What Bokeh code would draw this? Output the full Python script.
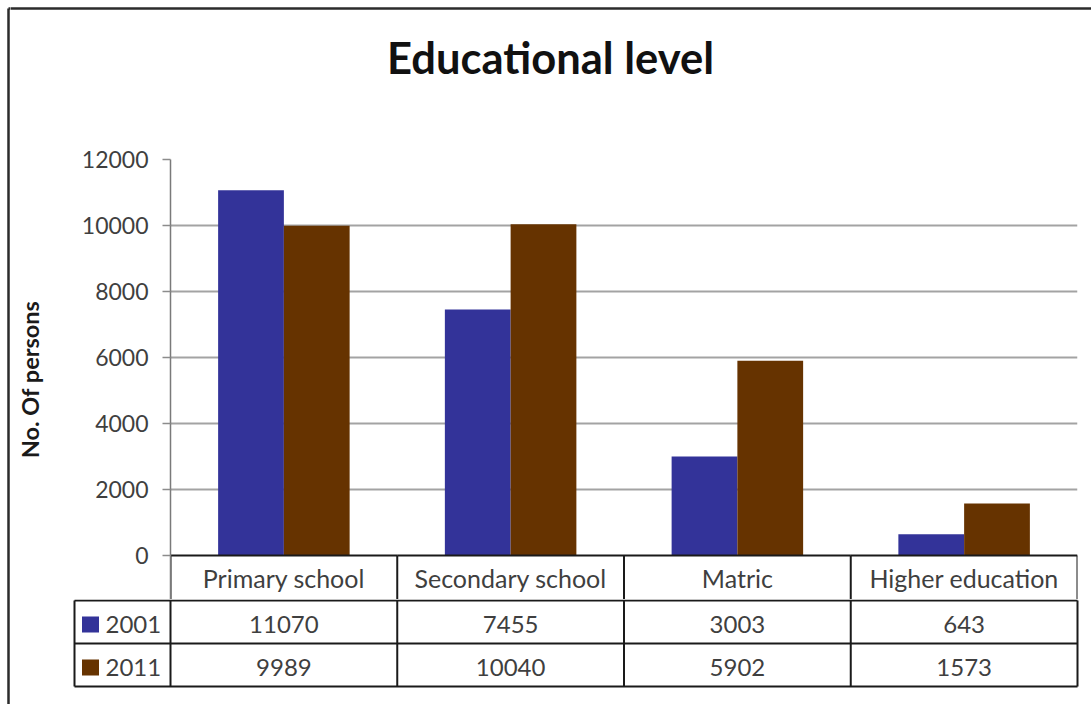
from bokeh.plotting import figure
from bokeh.models import FactorRange, Range1d, FixedTicker, ColumnDataSource
from bokeh.transform import dodge
from bokeh.layouts import column, row
from bokeh.embed import file_html
from bokeh.resources import INLINE
from bokeh.core.properties import value

# ---------------- data ----------------
categories = ["Primary school", "Secondary school", "Matric", "Higher education"]
years = ["2001", "2011"]
values_2001 = [11070, 7455, 3003, 643]
values_2011 = [9989, 10040, 5902, 1573]
y_ticks = [0, 2000, 4000, 6000, 8000, 10000, 12000]
title_text = "Educational level"
y_label = "No. Of persons"

# ---------------- styles / layout ----------------
colors = ["#333399", "#663300"]
FONT = "Lato"
TXT = "#3f3f3f"
LINE = "#1a1a1a"
BORDER = "#2b2b2b"
W, H = 1091, 704
EDGE = 10                      # width of the strip holding the left page border
TOP_H = 100                    # height of the strip holding the title and top border
BORDER_AT = 8                  # page border position
TITLE_X, TITLE_MID = 550, 56   # title centre (page px)
FL, FR, FT, FB = 170, 1077, 159, 555   # value area of the chart (page px)
HDR_PX = 44                    # height of the category header row
HB = FB + HDR_PX               # bottom of the chart figure
CW = (FR - FL) / len(categories)       # px per category
ROW_H = 43.0
LEG_L = 74                     # left edge of the legend column (page px)
BAR_W = 0.29


def bare(p):
    p.outline_line_color = None
    p.grid.visible = False
    p.background_fill_color = "white"
    p.border_fill_color = "white"
    p.frame_align = False
    return p


# ---- left strip: whole left page border (page px coordinates) ----
left = bare(figure(width=EDGE, height=H, x_range=Range1d(0, EDGE), y_range=Range1d(H, 0),
                   min_border=0, x_axis_location=None, y_axis_location=None,
                   output_backend="svg", toolbar_location=None))
left.segment(x0=[BORDER_AT, BORDER_AT], y0=[BORDER_AT, BORDER_AT], x1=[BORDER_AT, EDGE + 5],
             y1=[H, BORDER_AT], line_color=BORDER, line_width=2.5)

# ---- title strip (page px coordinates) ----
top = bare(figure(width=W - EDGE, height=TOP_H, x_range=Range1d(EDGE, W), y_range=Range1d(TOP_H, 0),
                  min_border=0, x_axis_location=None, y_axis_location=None,
                  output_backend="svg", toolbar_location=None))
top.segment(x0=[EDGE - 5], y0=[BORDER_AT], x1=[W], y1=[BORDER_AT], line_color=BORDER, line_width=2.5)
top.text(x=[TITLE_X], y=[TITLE_MID], text=[title_text], text_align="center",
         text_baseline="middle", text_font=value(FONT), text_font_size="43.5px",
         text_font_style="bold", text_color="#111111")

# ---- chart (value area + category header row) ----
y_per_px = (y_ticks[-1] - y_ticks[0]) / (FB - FT)
y_hdr = y_ticks[0] - HDR_PX * y_per_px
p1 = figure(width=W - EDGE, height=HB - TOP_H,
            x_range=FactorRange(*categories), y_range=Range1d(y_hdr, y_ticks[-1]),
            x_axis_location=None,
            min_border_left=FL - EDGE, min_border_right=W - FR,
            min_border_top=FT - TOP_H, min_border_bottom=0,
            output_backend="svg", toolbar_location=None)
p1.outline_line_color = None
p1.background_fill_color = "white"
p1.border_fill_color = "white"
p1.frame_align = False

src = ColumnDataSource(dict(cat=categories, v1=values_2001, v2=values_2011,
                            base=[y_ticks[0]] * len(categories),
                            hdr=[y_hdr] * len(categories),
                            mid=[y_hdr / 2] * len(categories)))
p1.vbar(x=dodge("cat", -BAR_W / 2, range=p1.x_range), top="v1", width=BAR_W, source=src,
        fill_color=colors[0], line_color=None)
p1.vbar(x=dodge("cat", BAR_W / 2, range=p1.x_range), top="v2", width=BAR_W, source=src,
        fill_color=colors[1], line_color=None)

yax = p1.yaxis[0]
yax.ticker = FixedTicker(ticks=y_ticks)
yax.major_label_text_font = FONT
yax.major_label_text_font_size = "23px"
yax.major_label_text_color = TXT
yax.major_label_standoff = 14
yax.major_tick_out = 8
yax.major_tick_in = 0
yax.minor_tick_line_color = None
yax.axis_line_color = "#7a7a7a"
yax.axis_line_width = 1.5
yax.major_tick_line_color = "#8c8c8c"
yax.major_tick_line_width = 1.5
yax.axis_label = y_label
yax.axis_label_text_font = FONT
yax.axis_label_text_font_style = "bold"
yax.axis_label_text_font_size = "23.5px"
yax.axis_label_text_color = "#1a1a1a"
yax.axis_label_standoff = 35

p1.ygrid.ticker = FixedTicker(ticks=y_ticks[1:])
p1.ygrid.grid_line_color = "#a3a3a3"
p1.ygrid.grid_line_width = 2
p1.xgrid.visible = False

# header row of the table: top line, cell borders, category names
p1.segment(x0=dodge("cat", -0.5, range=p1.x_range), y0="base",
           x1=dodge("cat", 0.5, range=p1.x_range), y1="base", source=src,
           line_color=LINE, line_width=2)
p1.segment(x0=dodge("cat", -0.5, range=p1.x_range), y0="base",
           x1=dodge("cat", -0.5, range=p1.x_range), y1="hdr", source=src,
           line_color=LINE, line_width=2)
last = ColumnDataSource(dict(cat=[categories[-1]], base=[y_ticks[0]], hdr=[y_hdr]))
p1.segment(x0=dodge("cat", 0.5, range=p1.x_range), y0="base",
           x1=dodge("cat", 0.5, range=p1.x_range), y1="hdr", source=last,
           line_color=LINE, line_width=2)
p1.text(x="cat", y="mid", text="cat", source=src, text_align="center", text_baseline="middle",
        text_font=value(FONT), text_font_size="25px", text_color=TXT)

# ---- data rows of the table ----
n_cat = len(categories)
n_row = len(years)
leg_u = (LEG_L - FL) / CW
p2 = bare(figure(width=W - EDGE, height=H - HB,
                 x_range=Range1d((EDGE - FL) / CW, (W - FL) / CW),
                 y_range=Range1d((H - HB - 1) / ROW_H, -1 / ROW_H),
                 min_border=0, x_axis_location=None, y_axis_location=None,
                 output_backend="svg", toolbar_location=None))

x0s, y0s, x1s, y1s = [], [], [], []
for r in range(n_row + 1):
    x0s.append(leg_u); x1s.append(n_cat); y0s.append(r); y1s.append(r)
for c in range(n_cat + 1):
    x0s.append(c); x1s.append(c); y0s.append(0); y1s.append(n_row)
x0s.append(leg_u); x1s.append(leg_u); y0s.append(0); y1s.append(n_row)
p2.segment(x0=x0s, y0=y0s, x1=x1s, y1=y1s, line_color=LINE, line_width=2)

centers = [i + 0.5 for i in range(n_cat)]
row_y = [k + 0.56 for k in range(n_row)]
for k, vals in enumerate([values_2001, values_2011]):
    p2.text(x=centers, y=[row_y[k]] * n_cat, text=[str(v) for v in vals],
            text_align="center", text_baseline="middle",
            text_font=value(FONT), text_font_size="24px", text_color=TXT)

p2.rect(x=[leg_u + 16 / CW] * n_row, y=row_y, width=17, height=16, width_units="screen",
        height_units="screen", fill_color=colors, line_color=None)
p2.text(x=[leg_u + 31 / CW] * n_row, y=row_y, text=years, text_align="left",
        text_baseline="middle", text_font=value(FONT), text_font_size="24px", text_color=TXT)

layout = row(left, column(top, p1, p2, spacing=0), spacing=0)

open("out.html", "w").write(file_html(layout, INLINE))
